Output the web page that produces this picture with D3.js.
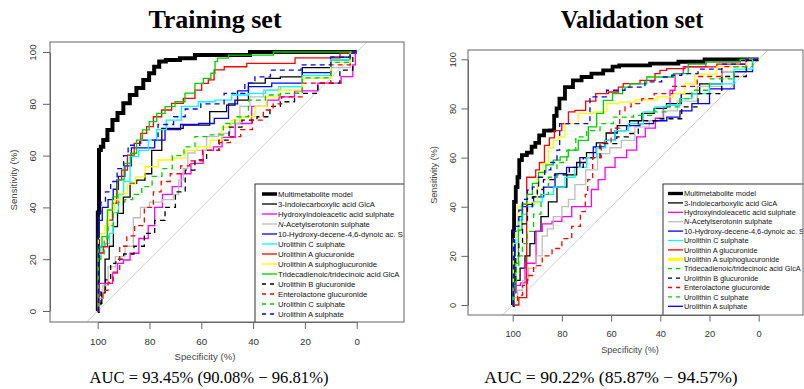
<!DOCTYPE html>
<html>
<head>
<meta charset="utf-8">
<script src="https://cdn.jsdelivr.net/npm/d3@7"></script>
<style>
  body { margin: 0; background: #fff; }
  svg { display: block; }
</style>
</head>
<body>
<div id="chart"></div>
<script>
// legend labels (same order in both panels)
const seriesNames = [
  'Multimetabolite model',
  '3-Indolecarboxylic acid GlcA',
  'Hydroxyindoleacetic acid sulphate',
  'N-Acetylserotonin sulphate',
  '10-Hydroxy-decene-4,6-dynoic ac. S',
  'Urolithin C sulphate',
  'Urolithin A glucuronide',
  'Urolithin A sulphoglucuronide',
  'Tridecadienoic/tridecinoic acid GlcA',
  'Urolithin B glucuronide',
  'Enterolactone glucuronide',
  'Urolithin C sulphate',
  'Urolithin A sulphate'
];
const ticks = [100, 80, 60, 40, 20, 0];
const panelTitles = ['Training set', 'Validation set'];
const aucTexts = ['AUC = 93.45% (90.08% \u2212 96.81%)', 'AUC = 90.22% (85.87% \u2212 94.57%)'];

// ROC points: [specificity %, sensitivity %]
// --- training set
const tMulti = [[100,0],[99.9,38],[99.1,62.2],[98.5,63.4],[97.2,66],[95.3,69.9],[93.3,73.7],[91.4,76.4],[88.8,80.2],[86.4,83.4],[83.7,86.1],[81.1,89.2],[79.2,91.8],[77.2,94.3],[75.3,96.3],[72.1,96.9],[64.4,97.6],[60.5,98.8],[46.3,98.8],[36.1,100],[0,100]];
const tIndole = [[100,0],[99,3],[97.8,7],[96.5,20],[94.6,25],[93.3,32.6],[91.4,37.7],[88.8,44],[86.2,49.3],[83.7,50.5],[79.8,53],[78.5,62],[72,70.5],[62,71.8],[51.5,77],[49,79.5],[45,81.4],[38.6,88],[32,89.8],[27,90.4],[15,94],[5,98],[0,100]];
const tHydroxy = [[100,0],[99,10.7],[95.2,10.7],[93.3,14.6],[91.4,18.4],[88.8,19.7],[86.2,22.3],[82,28],[79,33],[77,40],[73,45],[69.5,48],[66,53],[62,57],[56.6,62],[54,63.4],[50,67],[43.8,72.4],[37.3,79],[32,81.4],[28,82.7],[20,85],[10,88],[2,90.5],[1,95],[0,100]];
const tAcetyl = [[100,0],[99,5],[97,10],[95,17],[91.4,21],[87.5,25],[85,36],[82,40],[78,42],[72,43],[69.5,45],[68,50.5],[66,55],[64.4,61],[60.5,62],[55.4,67.3],[51.5,68.6],[46.4,72.4],[43.8,79],[38.6,82.7],[33.5,85.3],[27,86.6],[15,90],[5,94],[0,100]];
const tHydroxyDec = [[100,0],[99.5,35],[97,40],[95,43],[93,47],[91,52],[88,56],[86,63],[80,63],[76,66],[72,70],[64,72],[58,72.4],[52,74.4],[47,80],[45,85],[38.6,86.6],[27,88],[15,92],[5,97],[0,100]];
const tUroCS = [[100,0],[99.5,22],[98,25],[96,26],[95,30],[93,38],[91,45],[89,50],[86,59.6],[82.4,62],[78.5,66],[76,70],[71,73.7],[64.4,79],[58,80.8],[51.5,81.4],[45,83.4],[38.6,84],[32,85.3],[27,86.6],[15,91],[5,97],[0,100]];
const tUroAG = [[100,0],[99.5,22.4],[98.5,22.4],[97.2,24.8],[95.3,35.1],[93.3,41.6],[92,50.6],[89.5,54.4],[87.5,60.2],[84.3,64.7],[82.4,68.6],[79.8,71.2],[77.2,75],[73.4,77.6],[69.5,80.2],[64.4,82.1],[60.5,85.3],[59.2,87.9],[55.4,89.2],[54.7,93.1],[47.6,94.3],[37.3,95.6],[10.3,97.7],[2.6,99.6],[0,100]];
const tUroASG = [[100,0],[99.5,28],[98,30],[96.5,33],[95,39],[92,43],[90,45.4],[87,49],[83.7,51.8],[79.8,55.7],[73.4,58.3],[68,59],[64.4,62],[59,63.4],[54,66],[50,71],[46.4,73.7],[42.5,75],[36,79],[33.5,82.7],[27,85.3],[15,90],[5,96],[0,100]];
const tTrideca = [[100,0],[99.5,24.7],[97.2,28.7],[95.3,39],[93.3,44.1],[91.4,50.6],[88.2,57],[86.3,60.9],[83.7,66],[81.7,69.9],[78.5,73.1],[75.9,76.3],[72.1,78.9],[68.2,80.8],[64.4,84.1],[60.5,87.9],[57.9,89.8],[54.7,91.8],[54.7,96.3],[52.8,97.6],[46.3,98.8],[18,100],[0,100]];
const tUroBG = [[100,0],[99.5,2],[98,8],[96,12],[94,18.4],[92,20],[88,22],[84,25],[80,30],[76,35],[72,40],[68,46],[64.4,54.4],[60.5,58.3],[55.4,62],[51,66],[47.6,71],[41,73.7],[36,75],[31,79],[28,80.8],[20,84],[10,88],[3,93],[0,100]];
const tEntero = [[100,0],[99,5],[97,8],[95,11],[93,15],[90,25],[87.5,29],[84,33],[80,40],[77,46],[74,50],[70,53],[66,56],[63,58],[56,62],[50,65],[47.6,67.3],[42,70],[38.6,73.7],[33.5,77.6],[31,80],[27,82.7],[15,88],[5,95],[0,100]];
const tUroCS2 = [[100,0],[99.5,20],[98,22],[97,28],[95,33],[93,38],[91,42],[88,43],[85,45],[81,48],[77,52],[73.4,55],[69,60],[64.4,63.4],[60.5,67.3],[54,68],[49,72.4],[45,75],[38.6,81.4],[32,83.4],[27,84],[15,90],[5,96],[0,100]];
const tUroAS = [[100,0],[99.5,38],[98,42],[96,46],[94,50],[91,55],[89,60],[87.5,64],[80,66],[73.4,72],[68,75],[64.4,78],[56,80],[46.4,84],[40,88],[38.6,90.4],[28,93],[15,95],[5,98],[0,100]];

// --- validation set
const vMulti = [[100,0],[99.8,30],[99.1,42],[98.4,48],[97.7,52],[97,59],[95.5,61],[93,62],[91.6,64.4],[90,66],[88.5,69],[86,71],[83.5,71.1],[82.8,77],[81.5,80],[80.5,84],[77,88.7],[74,91.4],[70,92.8],[66,94.2],[60.4,95.5],[58.4,97],[55,97.5],[33.3,98.2],[32,99],[24,99],[20,100],[0,100]];
const vIndole = [[100,0],[99.5,5],[98,10],[96,15],[94,20],[92,25],[90,30],[87,36],[84,42],[80,48],[76,53],[72,58],[68,62],[64,66],[60,70],[55,73],[50,75],[45,78],[40,80],[35,82],[28,86],[20,90],[10,95],[0,100]];
const vHydroxy = [[100,0],[99.5,5],[98,8],[95.7,9],[94.3,17],[91,17],[90,30],[86,33],[82,34],[78,36],[74,40],[70,40],[66,47],[64.5,51],[60.4,56],[56.4,60],[51,63],[48.2,68.4],[44,72],[40,76],[37.4,80.6],[34.7,87.4],[33.3,94.2],[28,97],[15,99],[0,100]];
const vAcetyl = [[100,0],[99,3],[97,6],[95,10],[92,15],[89,20],[87,28],[85,31],[82,36],[78,40],[76.7,43],[72.7,49],[68,55],[63,61.6],[58,64],[53.7,67],[47,72.5],[42,75],[36,79],[30,83],[20,89],[10,95],[0,100]];
const vHydroxyDec = [[100,0],[99.5,20],[98.5,30],[97,36],[95,40],[93,41],[90,44],[84.8,48],[80.8,53.5],[75.4,56],[70,60],[64.5,64.3],[60.4,67],[56.4,71],[51,73],[45.5,73.8],[40,75],[34.7,76.5],[29.3,79],[25,82],[15,88],[5,95],[0,100]];
const vUroCS = [[100,0],[99.5,25],[98,30],[97,34.6],[95,37],[93,40],[90,42],[86,45],[80.8,48],[76.7,52],[72.7,56],[67.2,60],[64.5,64],[60.4,67],[56.4,71],[49.6,73.8],[44.2,78.6],[40,80.6],[34.7,81.3],[29.3,84],[25,86],[15,90],[5,96],[0,100]];
const vUroAG = [[100,0],[98,0],[97,3],[94.3,3],[94.3,52],[91,52],[90.3,55],[88,58],[86.2,65],[84,68],[82.1,71],[78,73.8],[76.7,78.6],[72.7,79.2],[68,83],[64.5,86],[57.7,86.7],[56.4,88.7],[53.7,90.1],[42.8,91.4],[41.5,94.2],[38.8,95.5],[36,96.2],[24,96.9],[10,98],[0,100]];
const vUroASG = [[100,0],[99.5,27],[98,30],[97.7,40],[94.3,41.4],[91,41.5],[89,52],[86.2,57.6],[84.8,64],[82,67],[80.8,68.4],[76.7,73.8],[70,78],[64.5,78.6],[59,82],[55,82.6],[45,83.5],[37.4,84.7],[32,86],[28,90],[24,94],[10,97],[0,100]];
const vTrideca = [[100,0],[99.1,9],[98.4,17],[97,30.5],[95.5,41],[93,45],[91,49.5],[88,54],[85,57],[82,59],[79.4,60.3],[75.4,63],[71.3,67],[67.2,72.5],[64.5,78],[61.8,83.3],[57,86],[53.7,88.7],[51,90],[40,92.8],[29.3,94.2],[28,98],[15,99],[0,100]];
const vUroBG = [[100,0],[99.5,10],[98,20],[97,25],[95,33],[93,40],[91,44],[89,47],[86,51],[80,53],[74,56],[68.6,60],[60.4,65.7],[55,68.4],[51,69.8],[46.9,75],[33.3,75.8],[29.3,80.6],[20,86],[10,93],[0,100]];
const vEntero = [[100,0],[99,2],[97,4],[95,8],[93,12],[90,16],[86,20],[82,23],[78,27],[74,32],[71,38],[70,45],[69,51],[66,60],[62,66],[58,72],[55,79],[53.7,80.6],[50,82],[45,84],[40,86],[30,89],[20,93],[10,97],[0,100]];
const vUroCS2 = [[100,0],[99,8],[98,15],[97,20],[95,25],[93,30],[90,37],[87,45],[84,52],[80,58],[76,63],[72.7,68.4],[67.2,71],[61.8,73.8],[56.4,76.5],[45.5,77.2],[40,78.6],[34.7,80.6],[29.3,84],[25,87.4],[15,92],[5,97],[0,100]];
const vUroAS = [[100,0],[99.5,30],[98,32],[97,38.6],[95,43],[93,46.8],[91,48],[88,52],[86,55],[83,58],[81,63],[80.8,73.8],[68.6,73.8],[68.6,84],[66,84.7],[57.7,87.4],[51,88.7],[41.5,90.8],[37.4,92.8],[33.3,93.5],[29.3,94.2],[20,96],[10,98],[0,100]];

const trainCurves = [tMulti, tIndole, tHydroxy, tAcetyl, tHydroxyDec, tUroCS, tUroAG, tUroASG, tTrideca, tUroBG, tEntero, tUroCS2, tUroAS];
const validCurves = [vMulti, vIndole, vHydroxy, vAcetyl, vHydroxyDec, vUroCS, vUroAG, vUroASG, vTrideca, vUroBG, vEntero, vUroCS2, vUroAS];

// styles
const colors = ['#000', '#000', '#ff00ff', '#bebebe', '#0000ff', '#00ffff', '#ff0000', '#ffff00', '#00cd00', '#000', '#ff0000', '#00cd00', '#0000ff'];
const trainDash = [0,0,0,0,0,0,0,0,0,1,1,1,1];
const validDash = [0,0,0,0,0,0,0,0,0,1,1,1,1];
const validLegendDash = [0,0,0,0,0,0,0,0,1,1,1,1,0];

const W = 804, H = 389;
const svg = d3.select('#chart').append('svg').attr('width', W).attr('height', H);

const panels = [
  { box: [50, 404, 42, 322], x100: 97.7, x0: 356.7, y0: 311, y100: 52, k: 1,
    curves: trainCurves, dash: trainDash, legDash: trainDash, legWide: 7,
    leg: [255, 184, 10, 7, 22, 23], legFont: 7.7,
    titleX: 215, titleSize: 26, aucX: 209, aucSize: 16.6,
    xlabX: 205, xlabY: 360, ylabX: 17, ylabY: 180, yTickOff: 14, xTickY: 345 },
  { box: [468, 803, 50, 315], x100: 512.7, x0: 758.7, y0: 305, y100: 59.3, k: 0.95,
    curves: validCurves, dash: validDash, legDash: validLegendDash, legWide: 7,
    leg: [663, 184, 9.4, 5, 20, 21], legFont: 7.4,
    titleX: 632, titleSize: 24.5, aucX: 611, aucSize: 17.6,
    xlabX: 630, xlabY: 353, ylabX: 437, ylabY: 175, yTickOff: 12, xTickY: 337 }
];

panels.forEach((p, pi) => {
  const [bl, br, bt, bb] = p.box;
  const x = d3.scaleLinear().domain([100, 0]).range([p.x100, p.x0]);
  const y = d3.scaleLinear().domain([0, 100]).range([p.y0, p.y100]);
  const g = svg.append('g');

  const clipId = 'clip' + pi;
  svg.append('clipPath').attr('id', clipId)
    .append('rect').attr('x', bl).attr('y', bt).attr('width', br - bl).attr('height', bb - bt);

  const inner = g.append('g').attr('clip-path', `url(#${clipId})`);

  // chance diagonal
  inner.append('line')
    .attr('x1', x(130)).attr('y1', y(-30))
    .attr('x2', x(-30)).attr('y2', y(130))
    .attr('stroke', '#cfcfcf').attr('stroke-width', 1);

  const line = d3.line().x(d => x(d[0])).y(d => y(d[1])).curve(d3.curveStep);

  p.curves.forEach((c, i) => {
    inner.append('path')
      .datum(c)
      .attr('fill', 'none')
      .attr('stroke', colors[i])
      .attr('stroke-width', i === 0 ? 4 * p.k : 1.3)
      .attr('stroke-dasharray', p.dash[i] ? '5,4' : null)
      .attr('stroke-linejoin', 'miter')
      .attr('d', line);
  });

  // legend
  const [lx, ly, lstep, s0, s1, tx] = p.leg;
  const leg = inner.append('g');
  leg.append('rect')
    .attr('x', lx).attr('y', ly).attr('width', 200).attr('height', 200)
    .attr('fill', '#fff').attr('stroke', '#333').attr('stroke-width', 1);
  seriesNames.forEach((name, i) => {
    const yy = ly + 10 * p.k + i * lstep;
    leg.append('line')
      .attr('x1', lx + s0).attr('x2', lx + s1).attr('y1', yy).attr('y2', yy)
      .attr('stroke', colors[i])
      .attr('stroke-width', i === 0 ? 3.5 * p.k : (pi === 1 && i === 7 ? 3 : 1.3))
      .attr('stroke-dasharray', p.legDash[i] ? '4,4' : null);
    const t = leg.append('text')
      .attr('x', lx + tx).attr('y', yy + p.legFont * 0.36)
      .attr('font-family', 'Liberation Sans, Arial, sans-serif')
      .attr('font-size', p.legFont).attr('fill', '#111');
    if (name.startsWith('N-')) {
      t.append('tspan').attr('font-style', 'italic').text('N');
      t.append('tspan').text(name.slice(1));
    } else {
      t.text(name);
    }
  });

  // box
  g.append('rect')
    .attr('x', bl).attr('y', bt).attr('width', br - bl).attr('height', bb - bt)
    .attr('fill', 'none').attr('stroke', '#666').attr('stroke-width', 1);

  // axes
  const ax = g.append('g').attr('transform', `translate(0,${bb})`)
    .call(d3.axisBottom(x).tickValues(ticks).tickSize(7 * p.k).tickSizeOuter(0));
  const ay = g.append('g').attr('transform', `translate(${bl},0)`)
    .call(d3.axisLeft(y).tickValues(ticks).tickSize(7 * p.k).tickSizeOuter(0));
  [ax, ay].forEach(a => {
    a.select('.domain').attr('stroke', '#666');
    a.selectAll('.tick line').attr('stroke', '#666');
    a.selectAll('text')
      .attr('font-family', 'Liberation Sans, Arial, sans-serif')
      .attr('font-size', 9.8 * p.k).attr('fill', '#333');
  });
  ax.selectAll('text').attr('y', p.xTickY - bb).attr('dy', null);
  ay.selectAll('text')
    .attr('x', null).attr('dy', null)
    .attr('text-anchor', 'middle')
    .attr('transform', `translate(${-p.yTickOff},0) rotate(-90)`);

  // axis titles
  g.append('text')
    .attr('x', p.xlabX).attr('y', p.xlabY)
    .attr('text-anchor', 'middle')
    .attr('font-family', 'Liberation Sans, Arial, sans-serif')
    .attr('font-size', 9.6 * p.k).attr('fill', '#444')
    .text('Specificity (%)');
  g.append('text')
    .attr('transform', `translate(${p.ylabX},${p.ylabY}) rotate(-90)`)
    .attr('text-anchor', 'middle')
    .attr('font-family', 'Liberation Sans, Arial, sans-serif')
    .attr('font-size', 9.6 * p.k).attr('fill', '#444')
    .text('Sensitivity (%)');

  // panel title and AUC
  g.append('text')
    .attr('x', p.titleX).attr('y', 28)
    .attr('text-anchor', 'middle')
    .attr('font-family', 'Liberation Serif, Times New Roman, serif')
    .attr('font-weight', 'bold').attr('font-size', p.titleSize)
    .text(panelTitles[pi]);
  g.append('text')
    .attr('x', p.aucX).attr('y', 383)
    .attr('text-anchor', 'middle')
    .attr('font-family', 'Liberation Serif, Times New Roman, serif')
    .attr('font-size', p.aucSize)
    .text(aucTexts[pi]);
});
</script>
</body>
</html>
